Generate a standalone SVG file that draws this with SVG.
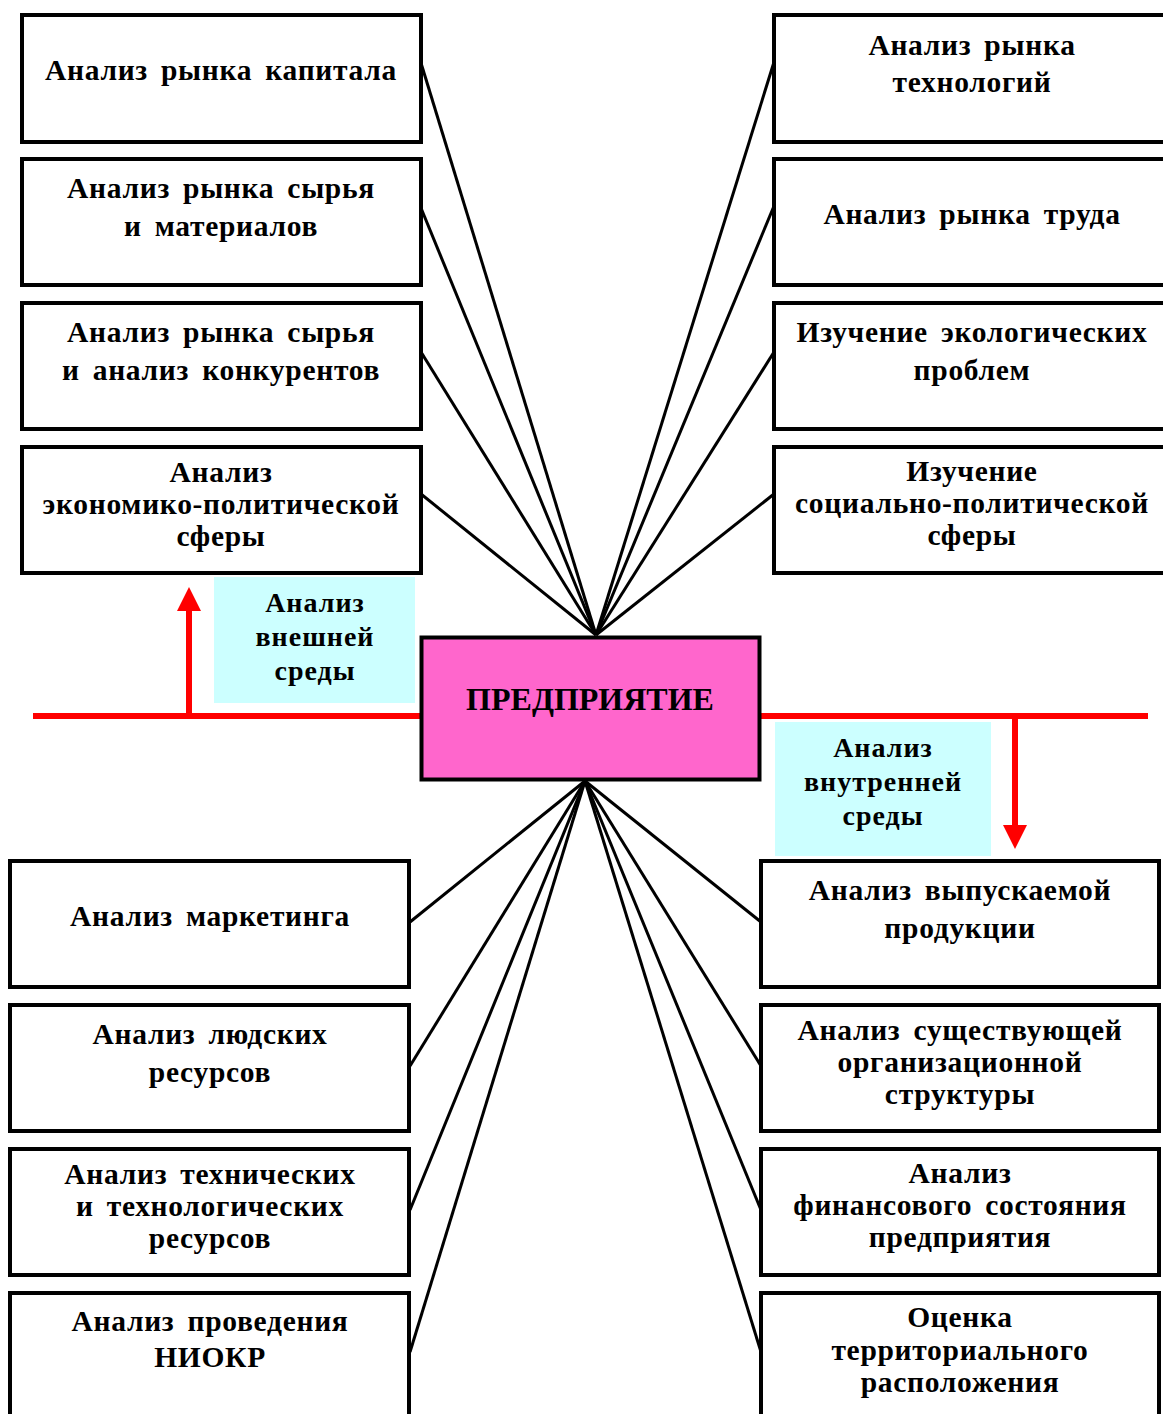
<svg xmlns="http://www.w3.org/2000/svg" width="1163" height="1414" viewBox="0 0 1163 1414">
<style>
.box{fill:#fff;stroke:#000;stroke-width:4}
.t{font-family:"Liberation Serif","Times New Roman",serif;font-weight:bold;font-size:29.5px;text-anchor:middle;fill:#000;letter-spacing:0.7px;word-spacing:5px}
.l{font-family:"Liberation Serif","Times New Roman",serif;font-weight:bold;font-size:28px;text-anchor:middle;fill:#000;letter-spacing:1px}
.c{fill:none;stroke:#000;stroke-width:3}
.red{stroke:#ff0000;stroke-width:6;fill:none}
.cy{fill:#ccffff}
</style>
<rect width="1163" height="1414" fill="#fff"/>
<g id="connectors">
<line class="c" x1="421" y1="63" x2="596" y2="635"/>
<line class="c" x1="421" y1="208" x2="596" y2="635"/>
<line class="c" x1="421" y1="352" x2="596" y2="635"/>
<line class="c" x1="421" y1="494" x2="596" y2="635"/>
<line class="c" x1="774" y1="62" x2="596" y2="635"/>
<line class="c" x1="774" y1="206" x2="596" y2="635"/>
<line class="c" x1="774" y1="352" x2="596" y2="635"/>
<line class="c" x1="774" y1="494" x2="596" y2="635"/>
<line class="c" x1="410" y1="922" x2="585" y2="781"/>
<line class="c" x1="410" y1="1066" x2="585" y2="781"/>
<line class="c" x1="410" y1="1210" x2="585" y2="781"/>
<line class="c" x1="410" y1="1352" x2="585" y2="781"/>
<line class="c" x1="761" y1="922" x2="585" y2="781"/>
<line class="c" x1="761" y1="1066" x2="585" y2="781"/>
<line class="c" x1="761" y1="1210" x2="585" y2="781"/>
<line class="c" x1="761" y1="1352" x2="585" y2="781"/>
<line class="red" x1="33" y1="716" x2="421" y2="716"/>
<line class="red" x1="760" y1="716" x2="1148" y2="716"/>
<line class="red" x1="189" y1="716" x2="189" y2="608"/>
<polygon points="177,611 201,611 189,587" fill="#ff0000"/>
<line class="red" x1="1015" y1="719" x2="1015" y2="828"/>
<polygon points="1003,825 1027,825 1015,849" fill="#ff0000"/>
</g>
<g id="label-external">
<rect class="cy" x="214" y="577" width="201" height="126"/>
<text class="l" x="315" y="612">Анализ</text>
<text class="l" x="315" y="646">внешней</text>
<text class="l" x="315" y="680">среды</text>
</g>
<g id="label-internal">
<rect class="cy" x="775" y="722" width="216" height="134"/>
<text class="l" x="883" y="757">Анализ</text>
<text class="l" x="883" y="791">внутренней</text>
<text class="l" x="883" y="825">среды</text>
</g>
<g id="center">
<rect x="421.5" y="637.5" width="338" height="142" fill="#ff66cc" stroke="#000" stroke-width="4"/>
<text class="l" x="590" y="710" style="font-size:32px;letter-spacing:0">ПРЕДПРИЯТИЕ</text>
</g>
<g id="tl1"><rect class="box" x="22" y="15" width="399" height="127"/><text class="t" x="221" y="80">Анализ рынка капитала</text></g>
<g id="tl2"><rect class="box" x="22" y="159" width="399" height="126"/><text class="t" x="221" y="198">Анализ рынка сырья</text><text class="t" x="221" y="236">и материалов</text></g>
<g id="tl3"><rect class="box" x="22" y="303" width="399" height="126"/><text class="t" x="221" y="342">Анализ рынка сырья</text><text class="t" x="221" y="380">и анализ конкурентов</text></g>
<g id="tl4"><rect class="box" x="22" y="447" width="399" height="126"/><text class="t" x="221" y="482">Анализ</text><text class="t" x="221" y="514">экономико-политической</text><text class="t" x="221" y="546">сферы</text></g>
<g id="tr1"><rect class="box" x="774" y="15" width="400" height="127"/><text class="t" x="972" y="55">Анализ рынка</text><text class="t" x="972" y="92">технологий</text></g>
<g id="tr2"><rect class="box" x="774" y="159" width="400" height="126"/><text class="t" x="972" y="224">Анализ рынка труда</text></g>
<g id="tr3"><rect class="box" x="774" y="303" width="400" height="126"/><text class="t" x="972" y="342">Изучение экологических</text><text class="t" x="972" y="380">проблем</text></g>
<g id="tr4"><rect class="box" x="774" y="447" width="400" height="126"/><text class="t" x="972" y="481">Изучение</text><text class="t" x="972" y="513">социально-политической</text><text class="t" x="972" y="545">сферы</text></g>
<g id="bl1"><rect class="box" x="10" y="861" width="399" height="126"/><text class="t" x="210" y="926">Анализ маркетинга</text></g>
<g id="bl2"><rect class="box" x="10" y="1005" width="399" height="126"/><text class="t" x="210" y="1044">Анализ людских</text><text class="t" x="210" y="1082">ресурсов</text></g>
<g id="bl3"><rect class="box" x="10" y="1149" width="399" height="126"/><text class="t" x="210" y="1184">Анализ технических</text><text class="t" x="210" y="1216">и технологических</text><text class="t" x="210" y="1248">ресурсов</text></g>
<g id="bl4"><rect class="box" x="10" y="1293" width="399" height="140"/><text class="t" x="210" y="1331">Анализ проведения</text><text class="t" x="210" y="1367">НИОКР</text></g>
<g id="br1"><rect class="box" x="761" y="861" width="398" height="126"/><text class="t" x="960" y="900">Анализ выпускаемой</text><text class="t" x="960" y="938">продукции</text></g>
<g id="br2"><rect class="box" x="761" y="1005" width="398" height="126"/><text class="t" x="960" y="1040">Анализ существующей</text><text class="t" x="960" y="1072">организационной</text><text class="t" x="960" y="1104">структуры</text></g>
<g id="br3"><rect class="box" x="761" y="1149" width="398" height="126"/><text class="t" x="960" y="1183">Анализ</text><text class="t" x="960" y="1215">финансового состояния</text><text class="t" x="960" y="1247">предприятия</text></g>
<g id="br4"><rect class="box" x="761" y="1293" width="398" height="140"/><text class="t" x="960" y="1327">Оценка</text><text class="t" x="960" y="1360">территориального</text><text class="t" x="960" y="1392">расположения</text></g>
</svg>
